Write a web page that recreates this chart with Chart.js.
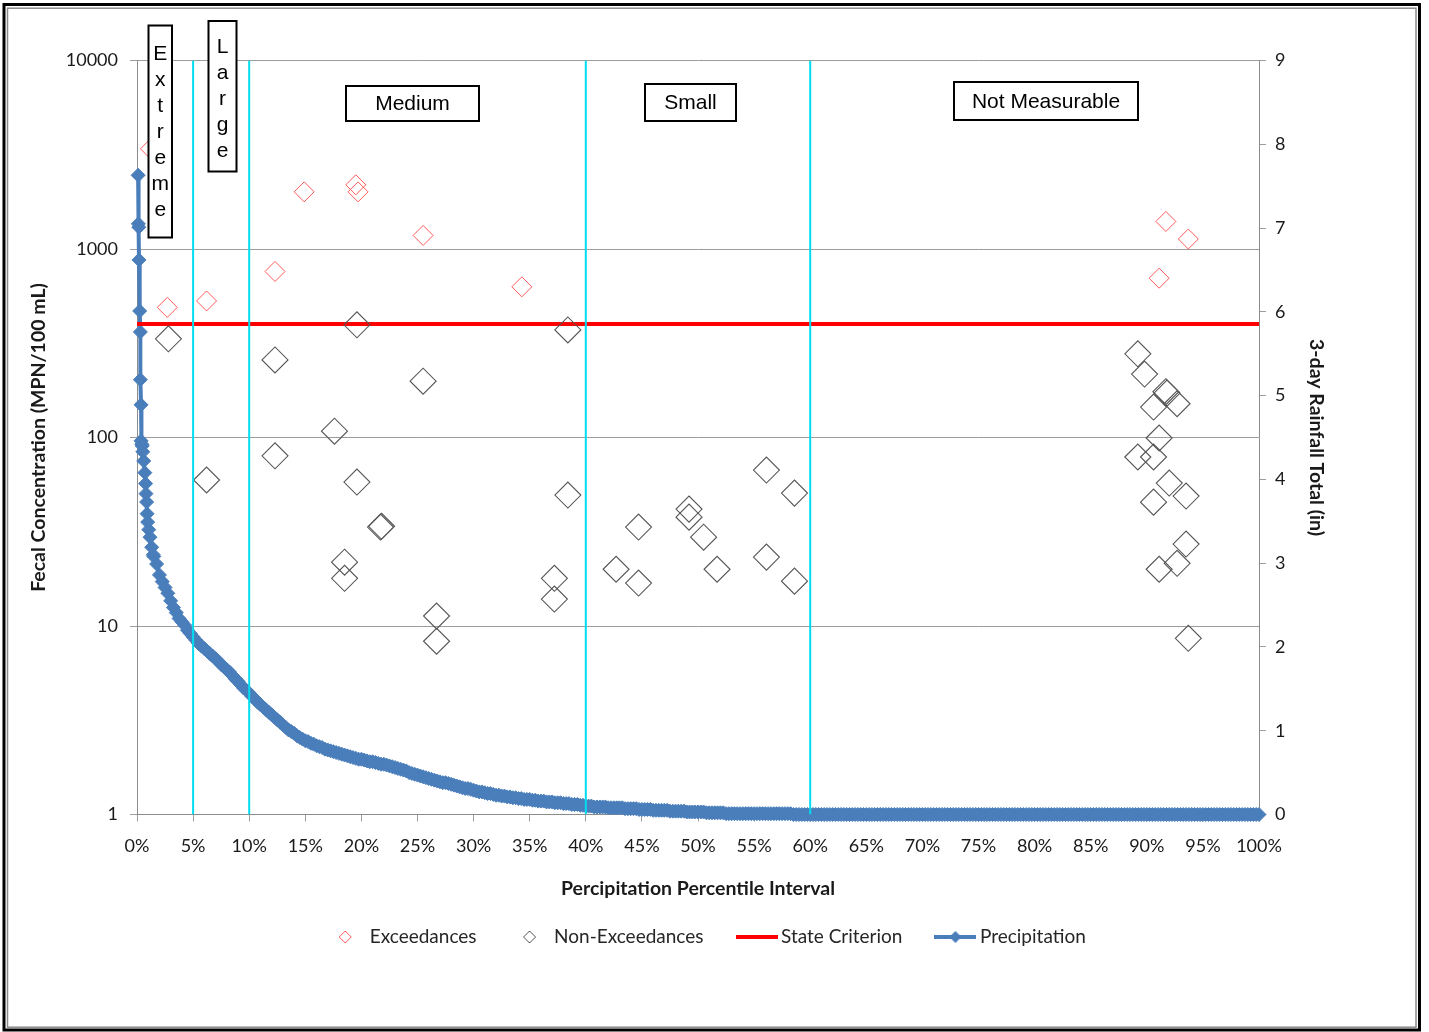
<!DOCTYPE html>
<html>
<head>
<meta charset="utf-8">
<script src="https://cdn.jsdelivr.net/npm/chart.js@4.4.1/dist/chart.umd.min.js"></script>
<style>
html,body{margin:0;padding:0;background:#fff;}
canvas{display:block;}
</style>
</head>
<body>
<canvas id="c" width="1429" height="1032"></canvas>
<script>
// ---------------- DATA ----------------
const exceedPct   = [1.2, 2.7, 6.2, 12.3, 14.9, 19.5, 19.7, 25.5, 34.3, 91.7, 91.1, 93.7];
const exceedFecal = [3400, 490, 530, 760, 2010, 2190, 2010, 1180, 630, 1400, 700, 1130];

const nonExceedPct = [2.8, 6.2, 12.3, 12.3, 17.6, 19.6, 19.6, 18.5, 18.5, 21.7, 21.8, 25.5, 26.7, 26.7,
  38.4, 38.4, 37.2, 37.2, 42.7, 44.7, 44.7, 49.2, 49.2, 50.5, 51.7, 56.1, 56.1, 58.6, 58.6,
  89.2, 89.8, 91.7, 91.8, 90.6, 92.7, 91.1, 89.2, 90.6, 92.0, 90.6, 93.5, 93.5, 92.7, 91.1, 93.7];
const nonExceedFecal = [334, 59.5, 258, 80, 108, 396, 58, 21.8, 17.9, 33.5, 33.8, 199, 11.3, 8.3,
  372, 49.5, 17.9, 13.9, 20, 33.5, 16.9, 41.7, 37.8, 29.6, 20, 67.2, 23.2, 50.7, 17.3,
  278, 217, 175, 172, 145, 151, 99.4, 78.8, 78.8, 57.3, 45.4, 48.9, 27.2, 21.5, 20, 8.6];

const stateCriterion = 400;            // MPN/100 mL
const intervalBounds = [5, 10, 40, 60]; // percentile boundaries of flow/precip zones

// largest ranked 3-day rainfall totals (percentile, inches)
const precipTopPct = [0.10, 0.12, 0.16, 0.18, 0.24, 0.30, 0.30, 0.36, 0.36, 0.43, 0.47, 0.52, 0.60, 0.70, 0.77, 0.80, 0.86, 0.90, 0.95, 1.05, 1.16, 1.31, 1.45];
const precipTopIn  = [7.63, 7.05, 7.01, 6.62, 6.01, 5.76, 5.19, 4.89, 4.46, 4.42, 4.40, 4.33, 4.22, 4.08, 3.95, 3.83, 3.73, 3.59, 3.49, 3.40, 3.31, 3.19, 3.10];
// remaining ranked totals, one every 0.25 percentile starting at 1.50 %
const precipStartPct = 1.5;
const precipStepPct = 0.25;
const precipIn = [
  3.08, 2.99,
  2.86, 2.78, 2.71, 2.64,  2.55, 2.47, 2.41, 2.34,  2.30, 2.26, 2.20, 2.16,  2.12, 2.08, 2.04, 2.01,
  1.98, 1.95, 1.92, 1.89,  1.86, 1.83, 1.79, 1.76,  1.73, 1.70, 1.66, 1.62,  1.59, 1.55, 1.51, 1.48,
  1.45, 1.41, 1.38, 1.34,  1.31, 1.28, 1.25, 1.22,  1.19, 1.16, 1.13, 1.10,  1.07, 1.04, 1.01, 0.99,
  0.97, 0.94, 0.92, 0.90,  0.88, 0.87, 0.85, 0.84,  0.82, 0.81, 0.80, 0.78,  0.77, 0.76, 0.75, 0.74,
  0.73, 0.72, 0.71, 0.70,  0.69, 0.68, 0.67, 0.66,  0.66, 0.65, 0.64, 0.63,  0.63, 0.62, 0.61, 0.60,
  0.60, 0.59, 0.58, 0.57,  0.56, 0.55, 0.54, 0.53,  0.52, 0.50, 0.49, 0.48,  0.47, 0.46, 0.45, 0.44,
  0.43, 0.42, 0.41, 0.40,  0.39, 0.38, 0.38, 0.37,  0.36, 0.35, 0.34, 0.33,  0.32, 0.31, 0.31, 0.30,
  0.29, 0.28, 0.27, 0.27,  0.26, 0.25, 0.25, 0.24,  0.23, 0.23, 0.22, 0.22,  0.21, 0.21, 0.20, 0.20,
  0.19, 0.19, 0.18, 0.18,  0.18, 0.17, 0.17, 0.16,  0.16, 0.16, 0.15, 0.15,  0.15, 0.14, 0.14, 0.14,
  0.13, 0.13, 0.13, 0.12,  0.12, 0.12, 0.11, 0.11,  0.10, 0.10, 0.10, 0.09,  0.09, 0.09, 0.09, 0.09,
  0.08, 0.08, 0.08, 0.08,  0.08, 0.08, 0.07, 0.07,  0.07, 0.07, 0.07, 0.06,  0.06, 0.06, 0.06, 0.06,
  0.05, 0.05, 0.05, 0.05,  0.05, 0.05, 0.04, 0.04,  0.04, 0.04, 0.04, 0.04,  0.03, 0.03, 0.03, 0.03,
  0.03, 0.03, 0.03, 0.02,  0.02, 0.02, 0.02, 0.02,  0.02, 0.02, 0.01, 0.01,  0.01, 0.01, 0.01, 0.01,
  0.01, 0.01, 0.01, 0.01,  0.01, 0.01, 0.01, 0.01,  0.01, 0.01, 0.01, 0.01,  0.01, 0.01, 0.01, 0.01,
  0.01, 0.01, 0.00, 0.00,  0.00, 0.00, 0.00, 0.00,
  0,0,0,0, 0,0,0,0, 0,0,0,0, 0,0,0,0, 0,0,0,0, 0,0,0,0, 0,0,0,0, 0,0,0,0, 0,0,0,0, 0,0,0,0,
  0,0,0,0, 0,0,0,0, 0,0,0,0, 0,0,0,0, 0,0,0,0, 0,0,0,0, 0,0,0,0, 0,0,0,0, 0,0,0,0, 0,0,0,0,
  0,0,0,0, 0,0,0,0, 0,0,0,0, 0,0,0,0, 0,0,0,0, 0,0,0,0, 0,0,0,0, 0,0,0,0, 0,0,0,0, 0,0,0,0,
  0,0,0,0, 0,0,0,0, 0,0,0,0, 0,0,0,0, 0,0,0,0, 0,0,0,0, 0,0,0,0, 0,0,0,0, 0,0,0,0, 0,0,0,0,
  0
];

const fecalTicks = [1, 10, 100, 1000, 10000];
const zoneNames = ['Extreme', 'Large', 'Medium', 'Small', 'Not Measurable'];

// ---------------- STYLE ----------------
const BLUE = '#4A7EBB';
const RED_LINE = '#FF0000';
const RED_PT = '#FF5A5A';
const GRAY_PT = '#555555';
const CYAN = '#00DDF0';
const GRID = '#9c9c9c';
const TXT = '#1a1a1a';
const FONT = 'Lato';
const TITLE_FONT = {family: FONT, size: 19.5, weight: 'bold'};

Chart.defaults.font.family = FONT;

function legendSymbol(kind) {
  const c = document.createElement('canvas');
  c.width = 42; c.height = 20;
  const g = c.getContext('2d');
  const diamond = (r) => { g.beginPath(); g.moveTo(21 - r, 10); g.lineTo(21, 10 - r); g.lineTo(21 + r, 10); g.lineTo(21, 10 + r); g.closePath(); };
  if (kind === 'exc' || kind === 'non') {
    diamond(6); g.lineWidth = 1; g.strokeStyle = kind === 'exc' ? RED_PT : GRAY_PT; g.stroke();
  } else if (kind === 'crit') {
    g.strokeStyle = RED_LINE; g.lineWidth = 4; g.beginPath(); g.moveTo(0, 10); g.lineTo(42, 10); g.stroke();
  } else {
    g.strokeStyle = BLUE; g.lineWidth = 4; g.beginPath(); g.moveTo(0, 10); g.lineTo(42, 10); g.stroke();
    diamond(6); g.fillStyle = BLUE; g.fill();
  }
  return c;
}

const precipData = precipTopPct.map((p, i) => ({x: p, y: precipTopIn[i]}))
  .concat(precipIn.map((v, i) => ({x: precipStartPct + i * precipStepPct, y: v})));

const zoneBoxes = [
  {lines: zoneNames[0].split(''), x: 148.5, y: 25.5, w: 23.5, h: 212, cy: 132},
  {lines: zoneNames[1].split(''), x: 208.5, y: 21, w: 28, h: 150.5, cy: 99},
  {lines: [zoneNames[2]], x: 346, y: 86, w: 133, h: 35, cy: 104.5},
  {lines: [zoneNames[3]], x: 645, y: 84, w: 91, h: 37, cy: 103.5},
  {lines: [zoneNames[4]], x: 954, y: 82, w: 184, h: 38, cy: 102}
];

const annotationPlugin = {
  id: 'zones',
  afterDatasetsDraw(chart) {
    const ctx = chart.ctx;
    ctx.save();
    zoneBoxes.forEach(b => {
      ctx.fillStyle = '#fff';
      ctx.fillRect(b.x, b.y, b.w, b.h);
      ctx.strokeStyle = '#000';
      ctx.lineWidth = 2;
      ctx.strokeRect(b.x, b.y, b.w, b.h);
      ctx.fillStyle = '#000';
      ctx.font = '21px "Liberation Sans", Arial, sans-serif';
      ctx.textAlign = 'center';
      ctx.textBaseline = 'middle';
      const n = b.lines.length;
      b.lines.forEach((t, i) => {
        ctx.fillText(t, b.x + b.w / 2, b.cy + (i - (n - 1) / 2) * 26);
      });
    });
    ctx.restore();
  },
  afterDraw(chart) {
    const ctx = chart.ctx;
    ctx.save();
    ctx.strokeStyle = '#000';
    ctx.lineWidth = 3;
    ctx.strokeRect(4, 4.5, 1415.5, 1025.5);
    ctx.strokeStyle = '#8a8a8a';
    ctx.lineWidth = 1.5;
    ctx.strokeRect(7.5, 8.2, 1408.5, 1019);
    ctx.restore();
  }
};

const legendDefs = [
  {text: 'Exceedances', kind: 'exc', idx: 0},
  {text: 'Non-Exceedances', kind: 'non', idx: 1},
  {text: 'State Criterion', kind: 'crit', idx: 2},
  {text: 'Precipitation', kind: 'pre', idx: 3}
];

new Chart(document.getElementById('c'), {
  type: 'line',
  data: {
    datasets: [
      {
        label: 'Exceedances', type: 'scatter', order: 1,
        data: exceedPct.map((p, i) => ({x: p, y: exceedFecal[i]})),
        xAxisID: 'x', yAxisID: 'y', showLine: false,
        pointStyle: 'rectRot', pointRadius: 10, pointBorderWidth: 1,
        pointBorderColor: RED_PT, pointBackgroundColor: 'rgba(0,0,0,0)'
      },
      {
        label: 'Non-Exceedances', type: 'scatter', order: 2,
        data: nonExceedPct.map((p, i) => ({x: p, y: nonExceedFecal[i]})),
        xAxisID: 'x', yAxisID: 'y', showLine: false,
        pointStyle: 'rectRot', pointRadius: 13, pointBorderWidth: 1.1,
        pointBorderColor: GRAY_PT, pointBackgroundColor: 'rgba(0,0,0,0)'
      },
      {
        label: 'State Criterion', type: 'line', order: 3,
        data: [{x: 0, y: stateCriterion}, {x: 100, y: stateCriterion}],
        xAxisID: 'x', yAxisID: 'y',
        borderColor: RED_LINE, borderWidth: 4, pointRadius: 0, clip: false
      },
      {
        label: 'Precipitation', type: 'line', order: 4,
        data: precipData,
        xAxisID: 'x', yAxisID: 'y2',
        borderColor: BLUE, borderWidth: 4, tension: 0,
        pointStyle: 'rectRot', pointRadius: 7, pointBorderWidth: 1,
        pointBackgroundColor: BLUE, pointBorderColor: BLUE, clip: false
      },
      {
        label: 'intervals', type: 'line', order: 0,
        data: intervalBounds.flatMap(b => [{x: b, y: 1}, {x: b, y: 10000}, {x: b, y: null}]),
        xAxisID: 'x', yAxisID: 'y', spanGaps: false,
        borderColor: CYAN, borderWidth: 2, pointRadius: 0
      }
    ]
  },
  options: {
    responsive: false,
    animation: false,
    events: [],
    layout: {padding: {top: 60.5, right: 13, bottom: 75.5, left: 0}},
    plugins: {
      tooltip: {enabled: false},
      legend: {
        position: 'bottom',
        labels: {
          usePointStyle: true, pointStyleWidth: 30, padding: 38,
          color: '#262626', font: {family: FONT, size: 19},
          generateLabels: () => legendDefs.map(d => ({
            text: d.text, pointStyle: legendSymbol(d.kind), datasetIndex: d.idx,
            hidden: false, lineWidth: 0, strokeStyle: 'rgba(0,0,0,0)', fillStyle: 'rgba(0,0,0,0)', fontColor: '#262626'
          }))
        }
      }
    },
    scales: {
      x: {
        type: 'linear', position: 'bottom', min: 0, max: 100,
        afterFit: s => { s.height = 75; },
        ticks: {stepSize: 5, autoSkip: false, maxRotation: 0, padding: 14, color: TXT,
          font: {family: FONT, size: 18}, callback: v => v + '%'},
        grid: {drawOnChartArea: false, drawTicks: true, tickLength: 7, color: GRID},
        border: {display: true, color: '#8c8c8c', width: 1},
        title: {display: true, text: 'Percipitation Percentile Interval', color: TXT,
          font: TITLE_FONT, padding: {top: 0, bottom: -10.9}}
      },
      y: {
        type: 'logarithmic', position: 'left', min: 1, max: 10000,
        afterFit: s => { s.width = 137; },
        afterBuildTicks: s => { s.ticks = fecalTicks.map(v => ({value: v})); },
        ticks: {padding: 12, color: TXT, font: {family: FONT, size: 18}, callback: v => String(v)},
        grid: {color: GRID, tickLength: 7},
        border: {display: true, color: '#8c8c8c', width: 1},
        title: {display: true, text: 'Fecal Concentration (MPN/100 mL)', color: TXT,
          font: TITLE_FONT, padding: {top: 27.3, bottom: 0}}
      },
      y2: {
        type: 'linear', position: 'right', min: 0, max: 9,
        afterFit: s => { s.width = 157; },
        ticks: {stepSize: 1, padding: 9, color: TXT, font: {family: FONT, size: 18}},
        grid: {drawOnChartArea: false, tickLength: 7, color: GRID},
        border: {display: true, color: '#8c8c8c', width: 1},
        title: {display: true, text: '3-day Rainfall Total (in)', color: TXT,
          font: TITLE_FONT, padding: {top: 88.3, bottom: 0}}
      }
    }
  },
  plugins: [annotationPlugin]
});
</script>
</body>
</html>
